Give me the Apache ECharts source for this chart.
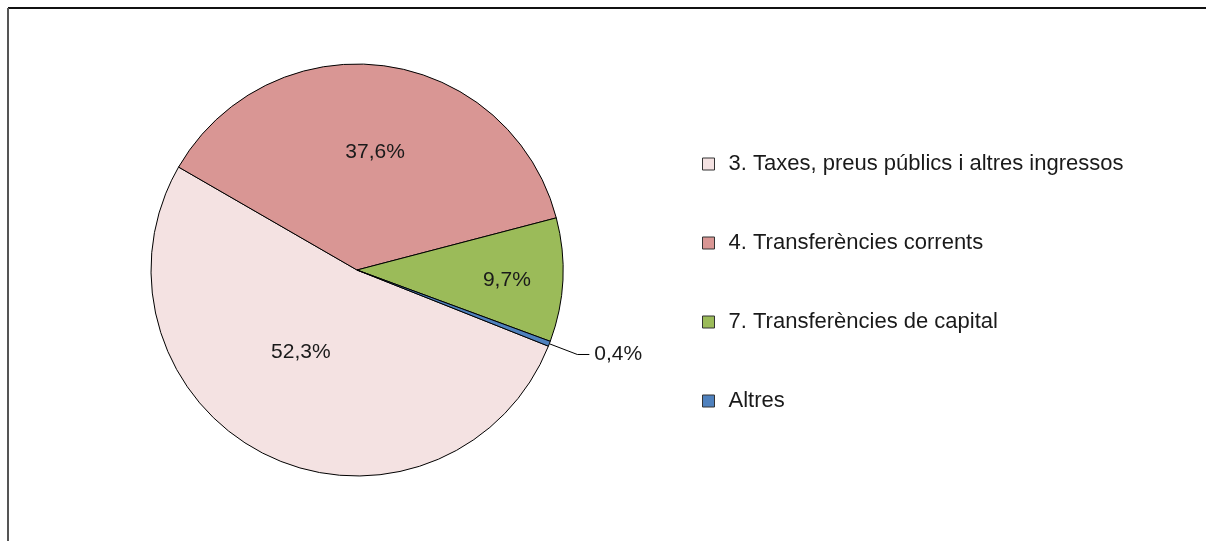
<!DOCTYPE html>
<html>
<head>
<meta charset="utf-8">
<script src="https://cdn.jsdelivr.net/npm/echarts@6/dist/echarts.min.js"></script>
<style>
  html, body { margin: 0; padding: 0; background: #fff; }
  #chart { width: 1206px; height: 541px; }
</style>
</head>
<body>
<div id="chart"></div>
<script>
const categories = [
  '3. Taxes, preus públics i altres ingressos',
  '4. Transferències corrents',
  '7. Transferències de capital',
  'Altres'
];
const shares = [52.3, 37.6, 9.7, 0.4];

const colors = ['#F4E2E2', '#D99694', '#9BBB59', '#4F81BD'];
// nudges so the inside labels sit where the original puts them
const labelOffsets = [[-10, -13], [4, -13], [44, 5], [0, 0]];

let myChart = echarts.init(document.getElementById('chart'));

const pieData = categories.map((name, i) => {
  const item = {
    name: name,
    value: shares[i],
    itemStyle: { color: colors[i] },
    label: { offset: labelOffsets[i] }
  };
  if (i === 3) {
    item.label = { position: 'outside', offset: [0, 0] };
    item.labelLine = { show: true };
  }
  return item;
});

myChart.setOption({
  animation: false,
  textStyle: { fontFamily: 'Liberation Sans, Arial, sans-serif' },
  graphic: [
    { type: 'line', shape: { x1: 8, y1: 8, x2: 1206, y2: 8 }, style: { stroke: '#111', lineWidth: 2 } },
    { type: 'line', shape: { x1: 8, y1: 8, x2: 8, y2: 541 }, style: { stroke: '#555', lineWidth: 2 } }
  ],
  legend: {
    orient: 'vertical',
    left: 697,
    top: 148,
    icon: 'rect',
    itemWidth: 12,
    itemHeight: 12,
    itemGap: 57,
    itemStyle: { borderColor: '#333', borderWidth: 1 },
    textStyle: { fontSize: 22, color: '#1a1a1a', lineHeight: 22, padding: [0, 0, 0, 9] },
    data: categories
  },
  series: [
    {
      type: 'pie',
      center: [357, 270],
      radius: 206,
      startAngle: 338.3,
      clockwise: true,
      silent: true,
      itemStyle: { borderColor: '#000', borderWidth: 1 },
      label: {
        show: true,
        position: 'inside',
        fontSize: 21,
        color: '#1a1a1a',
        formatter: p => p.value.toFixed(1).replace('.', ',') + '%'
      },
      labelLine: { show: false, length: 30, length2: 12, lineStyle: { color: '#000', width: 1 } },
      data: pieData
    }
  ]
});
window.addEventListener('resize', myChart.resize);
</script>
</body>
</html>
